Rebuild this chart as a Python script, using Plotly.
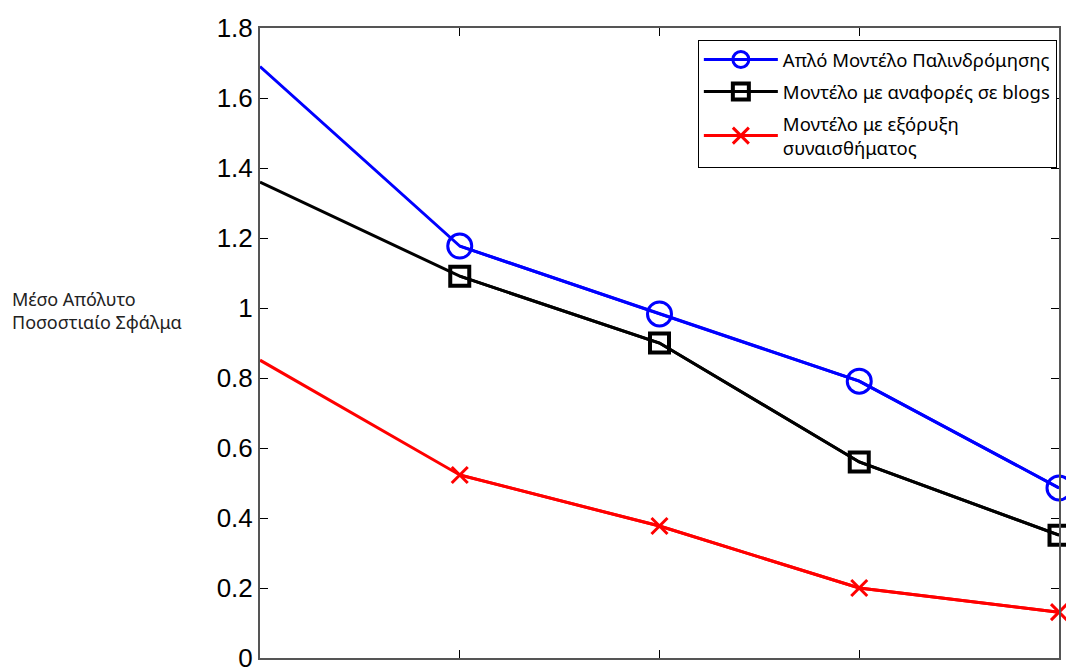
import plotly.graph_objects as go

x_vals = [1, 2, 3, 4, 5]
simple_model = [1.69, 1.177, 0.983, 0.791, 0.486]
blogs_model = [1.36, 1.091, 0.900, 0.560, 0.351]
sentiment_model = [0.851, 0.523, 0.377, 0.200, 0.131]
y_ticks = [0, 0.2, 0.4, 0.6, 0.8, 1, 1.2, 1.4, 1.6, 1.8]
y_tick_labels = ["0", "0.2", "0.4", "0.6", "0.8", "1", "1.2", "1.4", "1.6", "1.8"]

series = [
    ("Απλό Μοντέλο Παλινδρόμησης", simple_model, "#0000ff",
     dict(symbol="circle-open", size=24, line=dict(width=3))),
    ("Μοντέλο με αναφορές σε blogs", blogs_model, "#000000",
     dict(symbol="square-open", size=19, line=dict(width=4))),
    ("Μοντέλο με εξόρυξη<br>συναισθήματος", sentiment_model, "#ff0000",
     dict(symbol="x-thin-open", size=16, line=dict(width=3, color="#ff0000"))),
]

fig = go.Figure()
for i, (name, vals, color, mk) in enumerate(series):
    # full line (first point has no marker in the original)
    fig.add_trace(go.Scatter(
        x=x_vals, y=vals, mode="lines", showlegend=False,
        line=dict(color=color, width=3), hoverinfo="skip",
    ))
    fig.add_trace(go.Scatter(
        x=x_vals[1:], y=vals[1:], mode="lines+markers", name=name,
        line=dict(color=color, width=3),
        marker=dict(color=color, **mk),
        cliponaxis=False, legendgroup=f"g{i}",
    ))

fig.update_layout(
    width=1066, height=667,
    margin=dict(l=260, r=7, t=28, b=9, autoexpand=False),
    paper_bgcolor="white", plot_bgcolor="white",
    showlegend=True,
    legend=dict(
        x=0.548, y=0.981, xanchor="left", yanchor="top",
        bordercolor="black", borderwidth=1, bgcolor="white",
        font=dict(family="Noto Sans, Open Sans, sans-serif", size=18.5, color="black"),
        tracegroupgap=5, itemwidth=74,
    ),
    annotations=[dict(
        text="Μέσο Απόλυτο<br>Ποσοστιαίο Σφάλμα",
        xref="paper", yref="paper", x=-0.313, y=0.552,
        xanchor="left", yanchor="middle", align="left", showarrow=False,
        font=dict(family="Noto Sans, Open Sans, sans-serif", size=18, color="#222"),
    )],
)
fig.update_xaxes(
    range=[1, 5], showgrid=False, zeroline=False, showticklabels=False,
    tickmode="array", tickvals=[2, 3, 4], ticks="inside", ticklen=8,
    tickcolor="black", showline=True, linecolor="#555", linewidth=2, mirror="ticks",
    automargin=False,
)
fig.update_yaxes(
    range=[0, 1.8], showgrid=False, zeroline=False,
    tickmode="array", tickvals=y_ticks, ticktext=y_tick_labels,
    ticks="inside", ticklen=8, tickcolor="black",
    showline=True, linecolor="#555", linewidth=2, mirror="ticks",
    ticklabeloverflow="allow", automargin=False,
    tickfont=dict(family="Liberation Sans, Arial, sans-serif", size=26, color="black"),
)

fig.write_html("out.html")
